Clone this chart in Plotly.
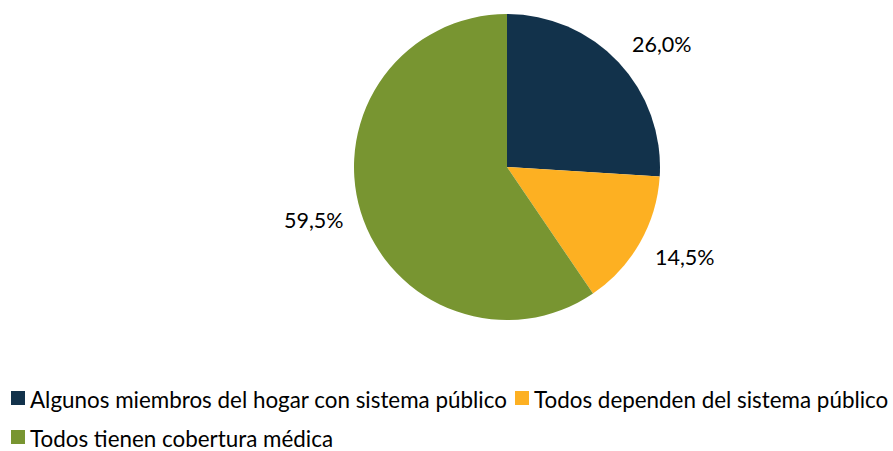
import math
import plotly.graph_objects as go

categorias = ["Algunos miembros del hogar con sistema público",
              "Todos dependen del sistema público",
              "Todos tienen cobertura médica"]
valores = [26.0, 14.5, 59.5]
etiquetas = ["26,0%", "14,5%", "59,5%"]
colores = ["#12324B", "#FDB022", "#789531"]

W, H = 893, 451
cx, cy, r = 507, 167, 153
FONT = "Lato"

fig = go.Figure(go.Pie(
    labels=categorias,
    values=valores,
    text=etiquetas,
    textinfo="none",
    sort=False,
    direction="clockwise",
    rotation=0,
    marker=dict(colors=colores, line=dict(width=0)),
    domain=dict(x=[(cx - r) / W, (cx + r) / W], y=[1 - (cy + r) / H, 1 - (cy - r) / H]),
    hoverinfo="label+text",
    showlegend=False,
))

# data labels: corner facing the pie sits on the slice mid-angle ray, just outside the edge
total = sum(valores)
acc = 0.0
annotations = []
for v, t in zip(valores, etiquetas):
    mid = (acc + v / 2) / total * 2 * math.pi
    acc += v
    s, c = math.sin(mid), math.cos(mid)
    px = cx + 1.10 * r * s
    py = cy - 1.10 * r * c
    py_c = py - max(-8.0, min(8.0, 13 * c))
    annotations.append(dict(x=px / W, y=1 - py_c / H, xref="paper", yref="paper",
                            text=t, showarrow=False,
                            xanchor="left" if s > 0 else "right", yanchor="middle",
                            font=dict(family=FONT, size=21.5, color="#000000")))

# legend (text + colour keys)
leg_pos = [(11, 398), (515, 398), (11, 437)]
shapes = []
for (lx, ly), name, col in zip(leg_pos, categorias, colores):
    shapes.append(dict(type="rect", xref="paper", yref="paper",
                       x0=lx / W, x1=(lx + 14) / W, y0=1 - (ly + 7) / H, y1=1 - (ly - 7) / H,
                       fillcolor=col, line=dict(width=0)))
    annotations.append(dict(x=(lx + 17) / W, y=1 - (ly + 1) / H, xref="paper", yref="paper",
                            text=name, showarrow=False, xanchor="left", yanchor="middle",
                            font=dict(family=FONT, size=22.4, color="#000000")))

fig.update_layout(
    width=W, height=H,
    margin=dict(l=0, r=0, t=0, b=0),
    paper_bgcolor="white",
    plot_bgcolor="white",
    annotations=annotations,
    shapes=shapes,
)

fig.write_html("out.html", config={"displayModeBar": False},
               post_script="document.body.style.margin='0px';")
